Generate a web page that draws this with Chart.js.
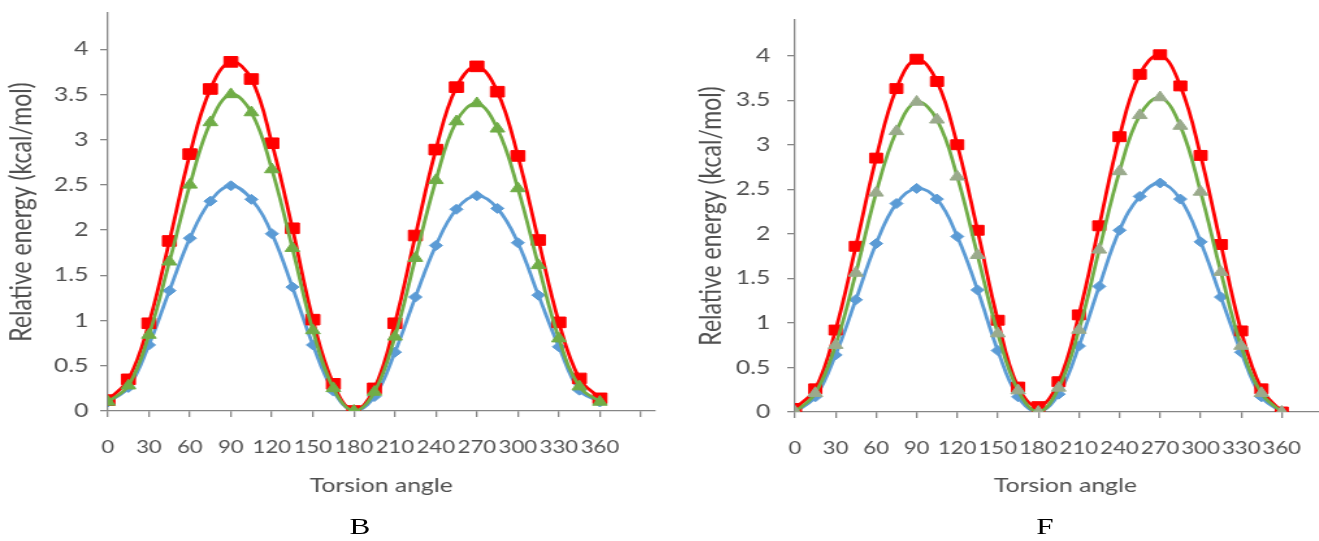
<!DOCTYPE html>
<html>
<head>
<meta charset="utf-8">
<script src="https://cdn.jsdelivr.net/npm/chart.js@4/dist/chart.umd.min.js"></script>
<style>
    html, body { margin: 0; padding: 0; background: #fff; overflow: hidden; }
    body { width: 1319px; height: 541px; position: relative; }
    .panel { position: absolute; top: 0; }
    .panel canvas { transform: scaleX(1.3); transform-origin: 0 0; }
    .tag {
        position: absolute; top: 513px; width: 40px; text-align: center;
        font-family: "Liberation Serif", serif; font-size: 24px; color: #000;
        transform: scaleX(1.3);
    }
</style>
</head>
<body>
<div class="panel" style="left:0px"><canvas id="chartB" width="512" height="541"></canvas></div>
<div class="panel" style="left:665px"><canvas id="chartF" width="524" height="541"></canvas></div>
<div class="tag" style="left:340px">B</div>
<div class="tag" style="left:1025px">F</div>

<script>
// torsion angles (degrees)
const angles = [0, 15, 30, 45, 60, 75, 90, 105, 120, 135, 150, 165, 180,
                195, 210, 225, 240, 255, 270, 285, 300, 315, 330, 345, 360];

const xTicks = [0, 30, 60, 90, 120, 150, 180, 210, 240, 270, 300, 330, 360, 390];
const yTicks = [0, 0.5, 1, 1.5, 2, 2.5, 3, 3.5, 4];

// panel B
const bBlue  = [0.10, 0.26, 0.73, 1.33, 1.91, 2.32, 2.49, 2.34, 1.96, 1.37, 0.73, 0.22, 0.00,
                0.16, 0.65, 1.26, 1.83, 2.23, 2.38, 2.24, 1.86, 1.28, 0.71, 0.23, 0.10];
const bRed   = [0.12, 0.35, 0.97, 1.88, 2.84, 3.56, 3.86, 3.67, 2.96, 2.02, 1.01, 0.30, 0.00,
                0.25, 0.97, 1.94, 2.89, 3.58, 3.81, 3.53, 2.82, 1.89, 0.98, 0.36, 0.14];
const bGreen = [0.10, 0.28, 0.84, 1.65, 2.50, 3.19, 3.50, 3.30, 2.67, 1.80, 0.89, 0.25, 0.00,
                0.21, 0.82, 1.69, 2.55, 3.20, 3.40, 3.12, 2.46, 1.61, 0.80, 0.27, 0.10];

// panel F
const fBlue  = [0.00, 0.17, 0.64, 1.26, 1.89, 2.34, 2.51, 2.39, 1.97, 1.37, 0.69, 0.17, 0.00,
                0.20, 0.74, 1.41, 2.04, 2.42, 2.57, 2.39, 1.91, 1.29, 0.67, 0.17, 0.00];
const fRed   = [0.04, 0.26, 0.92, 1.86, 2.85, 3.63, 3.96, 3.71, 3.00, 2.04, 1.03, 0.28, 0.06,
                0.34, 1.09, 2.09, 3.09, 3.79, 4.01, 3.66, 2.88, 1.88, 0.91, 0.26, 0.00];
const fGreen = [0.00, 0.21, 0.75, 1.56, 2.46, 3.15, 3.48, 3.28, 2.64, 1.76, 0.88, 0.24, 0.00,
                0.27, 0.92, 1.82, 2.70, 3.33, 3.53, 3.21, 2.47, 1.57, 0.74, 0.21, 0.00];

const AXIS = "#868686";
const TEXT = "#505050";
const FONT = "Lato";

function pts(ys) {
    return angles.map((a, i) => ({ x: a, y: ys[i] }));
}

function series(ys, color, style, radius, order, markColor) {
    return {
        data: pts(ys),
        borderColor: color,
        backgroundColor: markColor || color,
        pointBorderColor: markColor || color,
        pointBackgroundColor: markColor || color,
        borderWidth: 2.8,
        pointStyle: style,
        pointRadius: radius,
        pointBorderWidth: 1,
        tension: 0.4,
        order: order
    };
}

function makeChart(id, blue, red, green, cfg) {
    new Chart(document.getElementById(id), {
        type: "line",
        data: {
            datasets: [
                series(blue,  "#5B9BD5", "rectRot", cfg.diamond, 3),
                series(red,   "#FF0000", "rect",    cfg.square,  2),
                series(green, "#70AD47", "triangle", cfg.tri,    1, cfg.triColor)
            ]
        },
        options: {
            responsive: false,
            animation: false,
            devicePixelRatio: 1,
            layout: { padding: { top: cfg.top, left: 0, right: 0, bottom: 0 } },
            plugins: { legend: { display: false }, tooltip: { enabled: false } },
            scales: {
                x: {
                    type: "linear",
                    min: 0,
                    max: 400,
                    afterBuildTicks: s => { s.ticks = xTicks.map(v => ({ value: v })); },
                    afterFit: s => { s.height = cfg.xHeight; s.paddingLeft = 0; s.paddingRight = 0; },
                    ticks: {
                        color: TEXT,
                        font: { family: FONT, size: 17 },
                        padding: 20,
                        maxRotation: 0,
                        autoSkip: false,
                        callback: v => (v === 390 ? "" : String(v))
                    },
                    grid: { drawOnChartArea: false, color: AXIS, tickLength: 6, lineWidth: 1.3 },
                    border: { color: AXIS, width: 1.3 },
                    title: {
                        display: true,
                        text: "Torsion angle",
                        color: TEXT,
                        font: { family: FONT, size: 19 },
                        padding: { top: 0, bottom: 44 }
                    }
                },
                y: {
                    min: 0,
                    max: 4.4,
                    afterBuildTicks: s => { s.ticks = yTicks.map(v => ({ value: v })); },
                    afterFit: s => { s.width = cfg.yWidth; s.paddingTop = 0; s.paddingBottom = 0; },
                    ticks: {
                        color: TEXT,
                        font: { family: FONT, size: 19 },
                        padding: cfg.yPad,
                        callback: v => String(v)
                    },
                    grid: { drawOnChartArea: false, color: AXIS, tickLength: 6, lineWidth: 1.3 },
                    border: { color: AXIS, width: 1.3 },
                    title: {
                        display: true,
                        text: "Relative energy (kcal/mol)",
                        color: TEXT,
                        font: { family: FONT, size: 23 },
                        padding: { top: cfg.titlePad, bottom: 0 }
                    }
                }
            }
        }
    });
}

makeChart("chartB", bBlue, bRed, bGreen, {
    top: 13, xHeight: 130, yWidth: 83, yPad: 9, titlePad: 3,
    diamond: 5, square: 7.5, tri: 6.5
});

makeChart("chartF", fBlue, fRed, fGreen, {
    top: 20, xHeight: 129, yWidth: 100, yPad: 13, titlePad: 22,
    diamond: 5, square: 7, tri: 6.5, triColor: "#9AAA8C"
});
</script>
</body>
</html>
